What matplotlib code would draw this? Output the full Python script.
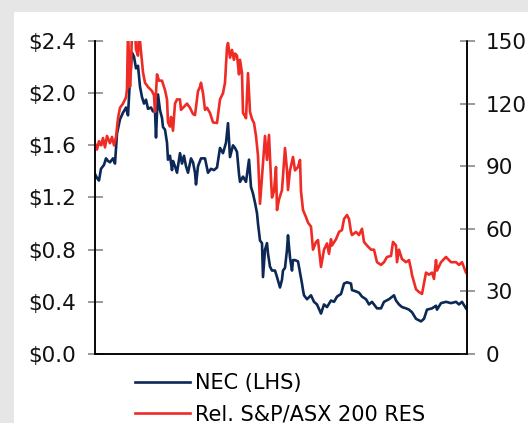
import numpy as np
import matplotlib
matplotlib.use("Agg")
import matplotlib.pyplot as plt
from matplotlib.patches import Rectangle
from matplotlib.ticker import FuncFormatter

# NEC share price (A$), trading-day offsets along the x axis
nec_t = [0, 2, 4, 6, 9, 11, 13, 15, 18, 20, 22, 25, 28, 31, 33, 35, 37, 39, 41, 43,
         45, 47, 49, 51, 53, 56, 58, 60, 61, 62, 63, 65, 67, 68, 70, 72, 73, 75, 77, 78,
         80, 82, 85, 87, 89, 91, 93, 96, 98, 100, 101, 103, 106, 110, 113, 116, 119, 122, 125, 128,
         131, 133, 135, 138, 140, 142, 144, 145, 148, 151, 154, 156, 158, 160, 162, 163, 165, 167, 168, 170,
         172, 173, 175, 177, 180, 182, 185, 187, 188, 190, 192, 193, 195, 197, 198, 200, 203, 207, 208, 209,
         212, 216, 219, 222, 226, 229, 232, 236, 239, 242, 246, 249, 252, 256, 257, 261, 264, 267, 271, 274,
         277, 282, 286, 289, 294, 299, 301, 304, 307, 311, 314, 317, 321, 326, 329, 332, 337, 341, 342, 346,
         351, 356, 361, 364, 367, 371]
nec = [1.38, 1.35, 1.33, 1.42, 1.45, 1.50, 1.48, 1.47, 1.50, 1.46, 1.69, 1.80, 1.85, 1.89, 1.83, 2.11, 2.31, 2.28, 2.19, 2.21,
       2.05, 1.97, 1.92, 1.95, 1.88, 1.89, 1.86, 1.87, 1.66, 1.85, 1.99, 1.87, 1.81, 1.74, 1.72, 1.62, 1.49, 1.52, 1.41, 1.48,
       1.44, 1.39, 1.54, 1.46, 1.52, 1.44, 1.39, 1.50, 1.47, 1.39, 1.30, 1.44, 1.50, 1.50, 1.39, 1.42, 1.41, 1.43, 1.58, 1.54,
       1.62, 1.77, 1.51, 1.60, 1.58, 1.55, 1.38, 1.32, 1.36, 1.32, 1.49, 1.28, 1.23, 1.16, 1.08, 1.00, 0.87, 0.85, 0.59, 0.80,
       0.85, 0.77, 0.67, 0.64, 0.64, 0.59, 0.51, 0.57, 0.64, 0.66, 0.80, 0.91, 0.74, 0.64, 0.72, 0.72, 0.71, 0.54, 0.49, 0.45,
       0.42, 0.45, 0.40, 0.38, 0.31, 0.38, 0.36, 0.41, 0.40, 0.44, 0.46, 0.54, 0.55, 0.54, 0.49, 0.48, 0.47, 0.44, 0.42, 0.38,
       0.40, 0.35, 0.35, 0.40, 0.42, 0.45, 0.41, 0.38, 0.36, 0.35, 0.34, 0.32, 0.27, 0.25, 0.27, 0.34, 0.35, 0.37, 0.34, 0.39,
       0.40, 0.39, 0.40, 0.38, 0.40, 0.35]

# price relative to S&P/ASX 200 Resources
rel_t = [0, 2, 4, 6, 8, 10, 12, 15, 17, 19, 21, 23, 25, 28, 31, 32, 33, 35, 36, 37,
         40, 41, 43, 44, 46, 48, 50, 53, 55, 57, 59, 60, 62, 64, 67, 70, 72, 73, 75, 76,
         78, 80, 82, 85, 86, 88, 92, 95, 98, 100, 103, 105, 106, 108, 110, 112, 115, 118, 122, 125,
         128, 130, 132, 133, 135, 137, 139, 140, 142, 144, 145, 147, 148, 150, 151, 153, 155, 157, 159, 161,
         163, 165, 168, 170, 172, 174, 176, 177, 179, 181, 182, 184, 187, 190, 192, 193, 195, 198, 200, 203,
         205, 206, 208, 211, 213, 216, 218, 221, 223, 226, 229, 232, 234, 236, 237, 241, 244, 247, 249, 252,
         254, 256, 257, 261, 264, 267, 269, 272, 276, 279, 282, 286, 289, 292, 296, 298, 301, 302, 304, 307,
         311, 314, 316, 317, 321, 324, 327, 331, 334, 337, 339, 341, 342, 346, 351, 356, 361, 364, 367, 371]
rel = [101, 98, 102, 100, 103.5, 99, 104.5, 101, 104, 100, 104, 113, 118, 120, 123, 127, 155, 128, 137, 155,
       155, 146, 143, 155, 145, 135, 130, 128, 127, 126, 124, 116, 134, 131, 131, 126.5, 122, 111, 109, 113.6,
       107, 120, 122, 122, 117, 118, 120, 118, 115, 114.5, 126, 128, 130, 125, 117, 118, 115.5, 111, 110.7, 122,
       125, 130, 147, 149, 142, 145.7, 141, 144, 143, 134, 141, 134.6, 115.5, 114, 113, 134.6, 116, 112.6, 110.7, 104.5,
       95, 72, 91.5, 104.5, 93, 105, 84, 75, 78, 89.6, 69, 74, 78.6, 98.7, 88, 78.6, 88, 94.4, 88, 89.6,
       93, 78, 69, 65.6, 63, 61, 50, 53.7, 54.6, 41.7, 50, 53, 48, 55, 52, 55, 58.5, 59.4, 64.7, 66.6,
       64.7, 58.5, 57, 58.5, 57, 60, 53.7, 52, 50, 50, 44, 42.7, 44, 46.5, 47, 53.7, 52, 44, 50, 45.5,
       44, 45, 40.7, 37.9, 31, 29.7, 28.8, 39, 38, 39, 36, 45, 40, 44, 46.5, 44, 44, 42.7, 44, 39]

price_ticks = [0.0, 0.4, 0.8, 1.2, 1.6, 2.0, 2.4]
rel_ticks = [0, 30, 60, 90, 120, 150]

navy = "#0b2856"
red = "#ef2b25"
tick_grey = "#7f7f7f"

fig = plt.figure(figsize=(5.28, 4.23), dpi=100)
fig.patch.set_facecolor("#e6e6e6")
# white panel inside the grey border
fig.patches.append(Rectangle((14 / 528, 0), 1, (423 - 12) / 423, transform=fig.transFigure,
                             facecolor="white", edgecolor="none", zorder=-5))

ax = fig.add_axes([95 / 528, (423 - 354) / 423, 372 / 528, 313 / 423])
ax.set_facecolor("none")
ax2 = ax.twinx()

l1, = ax.plot(nec_t, nec, color=navy, lw=1.9, label="NEC (LHS)")
l2, = ax2.plot(rel_t, rel, color=red, lw=1.9, label="Rel. S&P/ASX 200 RES")

ax.set_xlim(0, 372)
ax.set_ylim(0, 2.4)
ax2.set_ylim(0, 150)
ax.set_yticks(price_ticks)
ax2.set_yticks(rel_ticks)
ax.yaxis.set_major_formatter(FuncFormatter(lambda v, p: "$%.1f" % v))
ax.set_xticks([])

for a in (ax, ax2):
    a.spines["top"].set_visible(False)
    for s in ("left", "right", "bottom"):
        a.spines[s].set_color("black")
        a.spines[s].set_linewidth(1.1)
    a.tick_params(axis="y", direction="inout", length=10.8, width=1.1, color=tick_grey,
                  labelsize=15.5, labelcolor="#111111", pad=8)

fig.legend(handles=[l1, l2], loc="upper left", bbox_to_anchor=(135 / 528, 1 - 373 / 423),
           frameon=False, fontsize=15, handlelength=2.65, handletextpad=0.25,
           labelspacing=0.55, borderpad=0.0, borderaxespad=0.0)

fig.savefig("out.png", dpi=100, facecolor=fig.get_facecolor())
